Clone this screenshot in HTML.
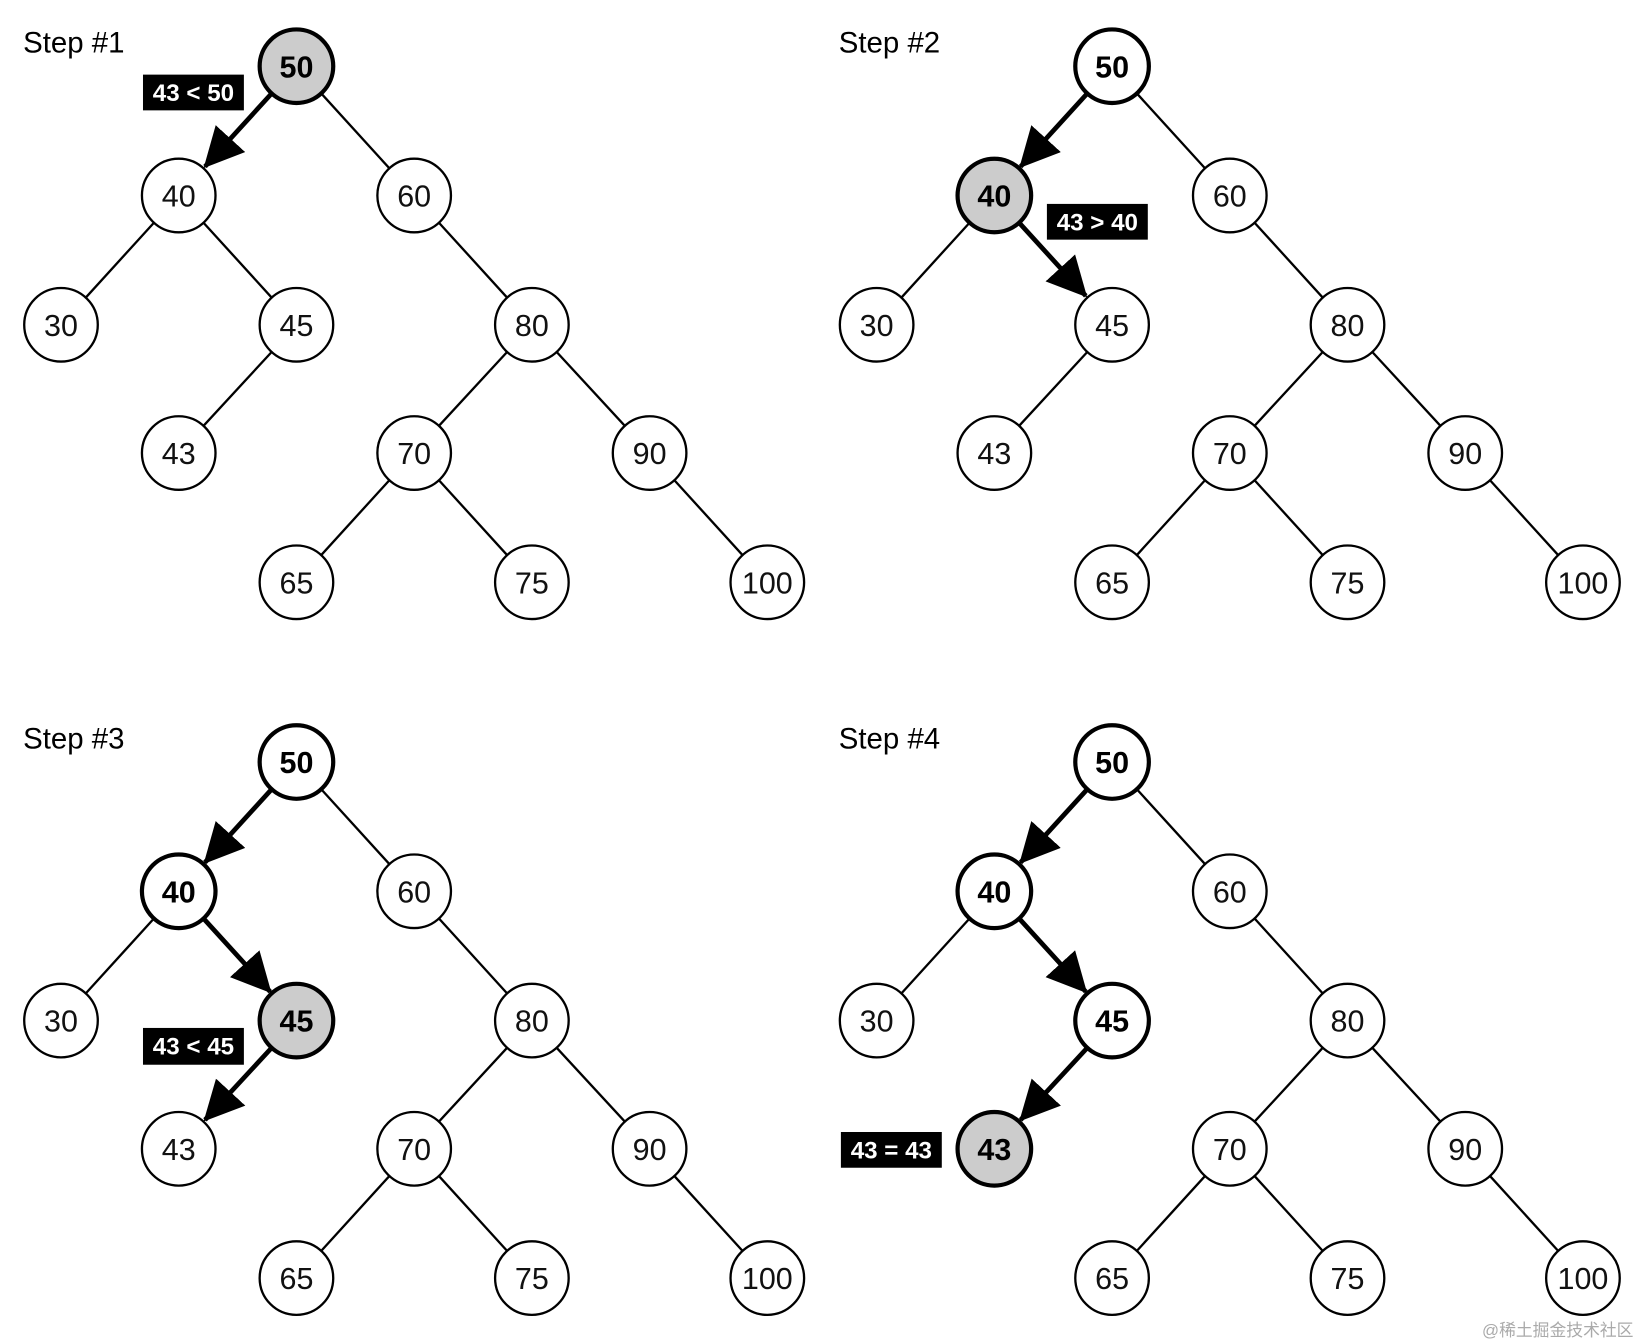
<!DOCTYPE html>
<html><head><meta charset="utf-8"><style>
html,body{margin:0;padding:0;background:#fff;}
svg{display:block;}
text{font-family:"Liberation Sans",sans-serif;}
.n{fill:#fff;stroke:#000;stroke-width:2.2;}
.b{fill:#fff;stroke:#000;stroke-width:4;}
.g{fill:#ccc;stroke:#000;stroke-width:4;}
.t{font-size:29px;text-anchor:middle;dominant-baseline:central;fill:#111;}
.tb{font-size:29px;font-weight:bold;text-anchor:middle;dominant-baseline:central;fill:#000;}
.e{stroke:#000;stroke-width:2.2;}
.a{stroke:#000;stroke-width:4.5;marker-end:url(#ah);}
.st{font-size:28px;fill:#000;}
.lb{font-size:23px;font-weight:bold;fill:#fff;text-anchor:middle;dominant-baseline:central;}
</style></head><body>
<svg width="1645" height="1344" viewBox="0 0 1565 1278.7">
<defs>
<marker id="ah" markerUnits="userSpaceOnUse" markerWidth="42" markerHeight="42" refX="36" refY="19" orient="auto">
<path d="M0,0 L38,19 L0,38 z" fill="#000"/>
</marker>
</defs>

<!-- Tree 1 -->
<g>
<text class="st" x="22" y="50">Step #1</text>
<line class="a" x1="258.4" y1="88.9" x2="195" y2="158.5"/>
<line class="e" x1="305.6" y1="88.9" x2="370.4" y2="160.1"/>
<line class="e" x1="146.4" y1="211.9" x2="81.6" y2="283.1"/>
<line class="e" x1="193.6" y1="211.9" x2="258.4" y2="283.1"/>
<line class="e" x1="258.4" y1="334.9" x2="193.6" y2="405.1"/>
<line class="e" x1="417.6" y1="211.9" x2="482.4" y2="283.1"/>
<line class="e" x1="482.4" y1="334.9" x2="417.6" y2="405.1"/>
<line class="e" x1="529.6" y1="334.9" x2="594.4" y2="405.1"/>
<line class="e" x1="370.4" y1="456.9" x2="305.6" y2="528.1"/>
<line class="e" x1="417.6" y1="456.9" x2="482.4" y2="528.1"/>
<line class="e" x1="641.6" y1="456.9" x2="706.4" y2="528.1"/>
<circle class="g" cx="282" cy="63" r="35"/><text class="tb" x="282" y="64">50</text>
<circle class="n" cx="170" cy="186" r="35"/><text class="t" x="170" y="187">40</text>
<circle class="n" cx="394" cy="186" r="35"/><text class="t" x="394" y="187">60</text>
<circle class="n" cx="58" cy="309" r="35"/><text class="t" x="58" y="310">30</text>
<circle class="n" cx="282" cy="309" r="35"/><text class="t" x="282" y="310">45</text>
<circle class="n" cx="506" cy="309" r="35"/><text class="t" x="506" y="310">80</text>
<circle class="n" cx="170" cy="431" r="35"/><text class="t" x="170" y="432">43</text>
<circle class="n" cx="394" cy="431" r="35"/><text class="t" x="394" y="432">70</text>
<circle class="n" cx="618" cy="431" r="35"/><text class="t" x="618" y="432">90</text>
<circle class="n" cx="282" cy="554" r="35"/><text class="t" x="282" y="555">65</text>
<circle class="n" cx="506" cy="554" r="35"/><text class="t" x="506" y="555">75</text>
<circle class="n" cx="730" cy="554" r="35"/><text class="t" x="730" y="555">100</text>
<rect x="136" y="71" width="96" height="34" fill="#000"/><text class="lb" x="184" y="89">43 &lt; 50</text>
</g>

<!-- Tree 2 -->
<g transform="translate(776,0)">
<text class="st" x="22" y="50">Step #2</text>
<line class="a" x1="258.4" y1="88.9" x2="195" y2="158.5"/>
<line class="e" x1="305.6" y1="88.9" x2="370.4" y2="160.1"/>
<line class="e" x1="146.4" y1="211.9" x2="81.6" y2="283.1"/>
<line class="a" x1="193.6" y1="211.9" x2="257" y2="281.5"/>
<line class="e" x1="258.4" y1="334.9" x2="193.6" y2="405.1"/>
<line class="e" x1="417.6" y1="211.9" x2="482.4" y2="283.1"/>
<line class="e" x1="482.4" y1="334.9" x2="417.6" y2="405.1"/>
<line class="e" x1="529.6" y1="334.9" x2="594.4" y2="405.1"/>
<line class="e" x1="370.4" y1="456.9" x2="305.6" y2="528.1"/>
<line class="e" x1="417.6" y1="456.9" x2="482.4" y2="528.1"/>
<line class="e" x1="641.6" y1="456.9" x2="706.4" y2="528.1"/>
<circle class="b" cx="282" cy="63" r="35"/><text class="tb" x="282" y="64">50</text>
<circle class="g" cx="170" cy="186" r="35"/><text class="tb" x="170" y="187">40</text>
<circle class="n" cx="394" cy="186" r="35"/><text class="t" x="394" y="187">60</text>
<circle class="n" cx="58" cy="309" r="35"/><text class="t" x="58" y="310">30</text>
<circle class="n" cx="282" cy="309" r="35"/><text class="t" x="282" y="310">45</text>
<circle class="n" cx="506" cy="309" r="35"/><text class="t" x="506" y="310">80</text>
<circle class="n" cx="170" cy="431" r="35"/><text class="t" x="170" y="432">43</text>
<circle class="n" cx="394" cy="431" r="35"/><text class="t" x="394" y="432">70</text>
<circle class="n" cx="618" cy="431" r="35"/><text class="t" x="618" y="432">90</text>
<circle class="n" cx="282" cy="554" r="35"/><text class="t" x="282" y="555">65</text>
<circle class="n" cx="506" cy="554" r="35"/><text class="t" x="506" y="555">75</text>
<circle class="n" cx="730" cy="554" r="35"/><text class="t" x="730" y="555">100</text>
<rect x="220" y="194" width="96" height="34" fill="#000"/><text class="lb" x="268" y="212">43 &gt; 40</text>
</g>

<!-- Tree 3 -->
<g transform="translate(0,662)">
<text class="st" x="22" y="50">Step #3</text>
<line class="a" x1="258.4" y1="88.9" x2="195" y2="158.5"/>
<line class="e" x1="305.6" y1="88.9" x2="370.4" y2="160.1"/>
<line class="e" x1="146.4" y1="211.9" x2="81.6" y2="283.1"/>
<line class="a" x1="193.6" y1="211.9" x2="257" y2="281.5"/>
<line class="a" x1="258.4" y1="334.9" x2="195" y2="403.5"/>
<line class="e" x1="417.6" y1="211.9" x2="482.4" y2="283.1"/>
<line class="e" x1="482.4" y1="334.9" x2="417.6" y2="405.1"/>
<line class="e" x1="529.6" y1="334.9" x2="594.4" y2="405.1"/>
<line class="e" x1="370.4" y1="456.9" x2="305.6" y2="528.1"/>
<line class="e" x1="417.6" y1="456.9" x2="482.4" y2="528.1"/>
<line class="e" x1="641.6" y1="456.9" x2="706.4" y2="528.1"/>
<circle class="b" cx="282" cy="63" r="35"/><text class="tb" x="282" y="64">50</text>
<circle class="b" cx="170" cy="186" r="35"/><text class="tb" x="170" y="187">40</text>
<circle class="n" cx="394" cy="186" r="35"/><text class="t" x="394" y="187">60</text>
<circle class="n" cx="58" cy="309" r="35"/><text class="t" x="58" y="310">30</text>
<circle class="g" cx="282" cy="309" r="35"/><text class="tb" x="282" y="310">45</text>
<circle class="n" cx="506" cy="309" r="35"/><text class="t" x="506" y="310">80</text>
<circle class="n" cx="170" cy="431" r="35"/><text class="t" x="170" y="432">43</text>
<circle class="n" cx="394" cy="431" r="35"/><text class="t" x="394" y="432">70</text>
<circle class="n" cx="618" cy="431" r="35"/><text class="t" x="618" y="432">90</text>
<circle class="n" cx="282" cy="554" r="35"/><text class="t" x="282" y="555">65</text>
<circle class="n" cx="506" cy="554" r="35"/><text class="t" x="506" y="555">75</text>
<circle class="n" cx="730" cy="554" r="35"/><text class="t" x="730" y="555">100</text>
<rect x="136" y="316" width="96" height="35" fill="#000"/><text class="lb" x="184" y="334">43 &lt; 45</text>
</g>

<!-- Tree 4 -->
<g transform="translate(776,662)">
<text class="st" x="22" y="50">Step #4</text>
<line class="a" x1="258.4" y1="88.9" x2="195" y2="158.5"/>
<line class="e" x1="305.6" y1="88.9" x2="370.4" y2="160.1"/>
<line class="e" x1="146.4" y1="211.9" x2="81.6" y2="283.1"/>
<line class="a" x1="193.6" y1="211.9" x2="257" y2="281.5"/>
<line class="a" x1="258.4" y1="334.9" x2="195" y2="403.5"/>
<line class="e" x1="417.6" y1="211.9" x2="482.4" y2="283.1"/>
<line class="e" x1="482.4" y1="334.9" x2="417.6" y2="405.1"/>
<line class="e" x1="529.6" y1="334.9" x2="594.4" y2="405.1"/>
<line class="e" x1="370.4" y1="456.9" x2="305.6" y2="528.1"/>
<line class="e" x1="417.6" y1="456.9" x2="482.4" y2="528.1"/>
<line class="e" x1="641.6" y1="456.9" x2="706.4" y2="528.1"/>
<circle class="b" cx="282" cy="63" r="35"/><text class="tb" x="282" y="64">50</text>
<circle class="b" cx="170" cy="186" r="35"/><text class="tb" x="170" y="187">40</text>
<circle class="n" cx="394" cy="186" r="35"/><text class="t" x="394" y="187">60</text>
<circle class="n" cx="58" cy="309" r="35"/><text class="t" x="58" y="310">30</text>
<circle class="b" cx="282" cy="309" r="35"/><text class="tb" x="282" y="310">45</text>
<circle class="n" cx="506" cy="309" r="35"/><text class="t" x="506" y="310">80</text>
<circle class="g" cx="170" cy="431" r="35"/><text class="tb" x="170" y="432">43</text>
<circle class="n" cx="394" cy="431" r="35"/><text class="t" x="394" y="432">70</text>
<circle class="n" cx="618" cy="431" r="35"/><text class="t" x="618" y="432">90</text>
<circle class="n" cx="282" cy="554" r="35"/><text class="t" x="282" y="555">65</text>
<circle class="n" cx="506" cy="554" r="35"/><text class="t" x="506" y="555">75</text>
<circle class="n" cx="730" cy="554" r="35"/><text class="t" x="730" y="555">100</text>
<rect x="24" y="415" width="96" height="34" fill="#000"/><text class="lb" x="72" y="433">43 = 43</text>
</g>

<text x="1410" y="1271" style="font-family:'Liberation Sans','Noto Sans CJK SC',sans-serif;font-size:16px;fill:#aaa;">@稀土掘金技术社区</text>
</svg>
</body></html>
